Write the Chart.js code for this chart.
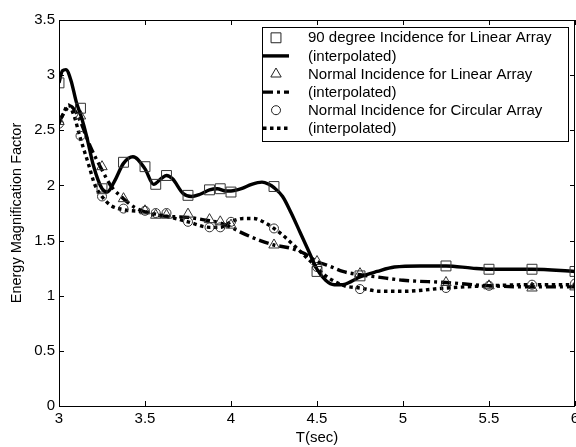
<!DOCTYPE html>
<html>
<head>
<meta charset="utf-8">
<script src="https://cdn.jsdelivr.net/npm/chart.js@4/dist/chart.umd.min.js"></script>
<style>
  html, body { margin: 0; padding: 0; background: #fff; }
  #wrap { width: 576px; height: 447px; }
</style>
</head>
<body>
<div id="wrap"><canvas id="c" width="576" height="447"></canvas></div>
<script>
// ── Data ─────────────────────────────────────────────────
const tMarks = [3.0, 3.125, 3.25, 3.375, 3.5, 3.5625, 3.625, 3.75, 3.875, 3.9375, 4.0, 4.25, 4.5, 4.75, 5.25, 5.5, 5.75, 6.0];
const sq90   = [2.93, 2.70, 1.97, 2.21, 2.17, 2.01, 2.09, 1.91, 1.96, 1.97, 1.94, 1.99, 1.22, 1.18, 1.27, 1.24, 1.24, 1.22];
const triLin = [2.58, 2.63, 2.17, 1.88, 1.77, 1.73, 1.73, 1.74, 1.69, 1.67, 1.64, 1.46, 1.31, 1.20, 1.12, 1.09, 1.07, 1.08];
const cirCir = [2.56, 2.45, 1.90, 1.79, 1.77, 1.75, 1.75, 1.67, 1.62, 1.62, 1.67, 1.61, 1.26, 1.06, 1.07, 1.09, 1.10, 1.11];

// interpolated curves
const tSolid = [3.0, 3.02, 3.04, 3.07, 3.1, 3.13, 3.16, 3.2, 3.25, 3.28, 3.32, 3.375, 3.43, 3.5, 3.55, 3.6, 3.625, 3.66, 3.72, 3.77, 3.82, 3.875, 3.92, 3.97, 4.0, 4.06, 4.12, 4.18, 4.22, 4.25, 4.3, 4.35, 4.4, 4.45, 4.5, 4.55, 4.6, 4.65, 4.7, 4.75, 4.85, 4.95, 5.1, 5.25, 5.4, 5.5, 5.75, 6.0];
const vSolid = [2.93, 3.04, 3.05, 2.95, 2.76, 2.62, 2.45, 2.18, 1.97, 1.94, 2.03, 2.20, 2.26, 2.15, 2.01, 2.07, 2.09, 2.06, 1.93, 1.90, 1.92, 1.96, 1.97, 1.95, 1.95, 1.97, 2.01, 2.03, 2.01, 1.98, 1.90, 1.75, 1.58, 1.41, 1.24, 1.14, 1.10, 1.10, 1.13, 1.17, 1.22, 1.26, 1.27, 1.27, 1.25, 1.24, 1.24, 1.22];

const tDashDot = [3.0, 3.03, 3.065, 3.1, 3.13, 3.18, 3.25, 3.3, 3.375, 3.44, 3.5, 3.5625, 3.625, 3.75, 3.875, 3.9375, 4.0, 4.05, 4.17, 4.25, 4.35, 4.43, 4.5, 4.57, 4.65, 4.75, 4.85, 5.0, 5.25, 5.5, 5.75, 6.0];
const vDashDot = [2.57, 2.66, 2.72, 2.66, 2.56, 2.36, 2.14, 2.00, 1.88, 1.80, 1.76, 1.73, 1.72, 1.71, 1.68, 1.66, 1.62, 1.58, 1.50, 1.46, 1.43, 1.38, 1.31, 1.27, 1.22, 1.19, 1.17, 1.14, 1.12, 1.09, 1.08, 1.08];

const tDotted = [3.0, 3.03, 3.055, 3.09, 3.12, 3.17, 3.21, 3.25, 3.3, 3.375, 3.5, 3.5625, 3.625, 3.75, 3.875, 3.9375, 4.0, 4.07, 4.13, 4.2, 4.25, 4.3, 4.37, 4.45, 4.5, 4.55, 4.59, 4.66, 4.75, 4.87, 5.0, 5.25, 5.5, 5.75, 6.0];
const vDotted = [2.56, 2.67, 2.73, 2.62, 2.45, 2.20, 2.00, 1.90, 1.82, 1.78, 1.76, 1.74, 1.72, 1.67, 1.62, 1.62, 1.67, 1.70, 1.70, 1.66, 1.61, 1.55, 1.45, 1.33, 1.25, 1.18, 1.14, 1.09, 1.07, 1.04, 1.04, 1.07, 1.09, 1.10, 1.10];

const xTicks = [3, 3.5, 4, 4.5, 5, 5.5, 6];
const yTicks = [0, 0.5, 1, 1.5, 2, 2.5, 3, 3.5];

const labels = [
  '90 degree Incidence for Linear Array', '(interpolated)',
  'Normal Incidence for Linear Array', '(interpolated)',
  'Normal Incidence for Circular Array', '(interpolated)'
];

const FONT = "'Liberation Sans', Arial, Helvetica, sans-serif";
const pts = (xs, ys) => xs.map((x, i) => ({ x, y: ys[i] }));

function markerSet(label, ys, style, r) {
  return {
    label, data: pts(tMarks, ys), showLine: false,
    pointStyle: style, pointRadius: r, pointHoverRadius: r,
    pointBorderColor: '#333', pointBackgroundColor: 'rgba(0,0,0,0)', pointBorderWidth: 1,
  };
}
function curveSet(label, xs, ys, dash) {
  return {
    label, data: pts(xs, ys), showLine: true, pointRadius: 0,
    borderColor: '#000', borderWidth: 3.4, borderDash: dash,
    tension: 0.4, cubicInterpolationMode: 'monotone', borderCapStyle: 'butt',
  };
}

// ── Frame with inward ticks (MATLAB style) + x tick labels ──
const frame = {
  id: 'frame',
  afterDatasetsDraw(chart) {
    const { ctx, chartArea: a, scales: { x, y } } = chart;
    ctx.save();
    ctx.strokeStyle = '#000';
    ctx.lineWidth = 1;
    ctx.strokeRect(a.left + 0.5, a.top + 0.5, a.right - a.left - 1, a.bottom - a.top);
    ctx.beginPath();
    xTicks.forEach(v => {
      const px = Math.round(x.getPixelForValue(v)) + 0.5;
      ctx.moveTo(px, a.bottom); ctx.lineTo(px, a.bottom - 5);
      ctx.moveTo(px, a.top); ctx.lineTo(px, a.top + 5);
    });
    yTicks.forEach(v => {
      const py = Math.round(y.getPixelForValue(v)) + 0.5;
      ctx.moveTo(a.left, py); ctx.lineTo(a.left + 5, py);
      ctx.moveTo(a.right, py); ctx.lineTo(a.right - 5, py);
    });
    ctx.stroke();
    ctx.fillStyle = '#000';
    ctx.font = '15px ' + FONT;
    ctx.textAlign = 'center';
    ctx.textBaseline = 'middle';
    xTicks.forEach(v => ctx.fillText(String(v), x.getPixelForValue(v), a.bottom + 12.5));
    ctx.restore();
  }
};

// ── Legend box inside the axes ──────────────────────────
function drawMarker(ctx, style, cx, cy, r) {
  ctx.beginPath();
  if (style === 'rect') {
    const s = r * Math.SQRT1_2;
    ctx.rect(cx - s, cy - s, 2 * s, 2 * s);
  } else if (style === 'triangle') {
    ctx.moveTo(cx, cy - r);
    ctx.lineTo(cx + r * 0.866, cy + r * 0.5);
    ctx.lineTo(cx - r * 0.866, cy + r * 0.5);
    ctx.closePath();
  } else {
    ctx.arc(cx, cy, r, 0, Math.PI * 2);
  }
  ctx.stroke();
}
const legendBox = {
  id: 'legendBox',
  afterDraw(chart) {
    const ctx = chart.ctx;
    const bx = 262, by = 27, bw = 306, bh = 114, row = 18.1, first = 37.8;
    ctx.save();
    ctx.fillStyle = '#fff';
    ctx.fillRect(bx, by, bw, bh);
    ctx.strokeStyle = '#000';
    ctx.lineWidth = 1;
    ctx.strokeRect(bx + 0.5, by + 0.5, bw, bh);
    ctx.font = '15px ' + FONT;
    ctx.textBaseline = 'middle';
    ctx.fillStyle = '#000';
    chart.data.datasets.forEach((ds, i) => {
      const cy = first + row * i;
      if (ds.showLine) {
        ctx.save();
        ctx.strokeStyle = '#000';
        ctx.lineWidth = 3.4;
        ctx.setLineDash(ds.borderDash || []);
        ctx.beginPath();
        ctx.moveTo(263, cy); ctx.lineTo(289, cy);
        ctx.stroke();
        ctx.restore();
      } else {
        ctx.save();
        ctx.strokeStyle = '#222';
        ctx.lineWidth = 1;
        drawMarker(ctx, ds.pointStyle, 276, cy, ds.pointRadius);
        ctx.restore();
      }
      ctx.fillText(ds.label, 308, cy + 0.5);
    });
    ctx.restore();
  }
};

new Chart(document.getElementById('c'), {
  type: 'scatter',
  data: {
    datasets: [
      markerSet(labels[0], sq90, 'rect', 7),
      curveSet(labels[1], tSolid, vSolid, []),
      markerSet(labels[2], triLin, 'triangle', 6),
      curveSet(labels[3], tDashDot, vDashDot, [10, 4, 3, 4]),
      markerSet(labels[4], cirCir, 'circle', 4.5),
      curveSet(labels[5], tDotted, vDotted, [3.5, 3.5]),
    ]
  },
  options: {
    responsive: false,
    animation: false,
    devicePixelRatio: 1,
    layout: { autoPadding: false, padding: { top: 20, right: 1, left: 0, bottom: 0 } },
    plugins: { legend: { display: false }, tooltip: { enabled: false } },
    scales: {
      x: {
        type: 'linear', min: 3, max: 6,
        afterFit: s => { s.height = 41; },
        afterBuildTicks: s => { s.ticks = xTicks.map(v => ({ value: v })); },
        grid: { display: false, drawTicks: false },
        border: { display: false },
        ticks: { display: false },
        title: { display: true, text: 'T(sec)', color: '#000', padding: { top: 0, bottom: 0 }, font: { family: FONT, size: 15 } }
      },
      y: {
        type: 'linear', min: 0, max: 3.5,
        afterFit: s => { s.width = 59; },
        afterBuildTicks: s => { s.ticks = yTicks.map(v => ({ value: v })); },
        grid: { display: false, drawTicks: false },
        border: { display: false },
        ticks: { color: '#000', padding: 4, font: { family: FONT, size: 15 }, callback: v => String(v) },
        title: { display: true, text: 'Energy Magnification Factor', color: '#000', padding: { top: 8, bottom: 0 }, font: { family: FONT, size: 14.5 } }
      }
    }
  },
  plugins: [frame, legendBox]
});
</script>
</body>
</html>
